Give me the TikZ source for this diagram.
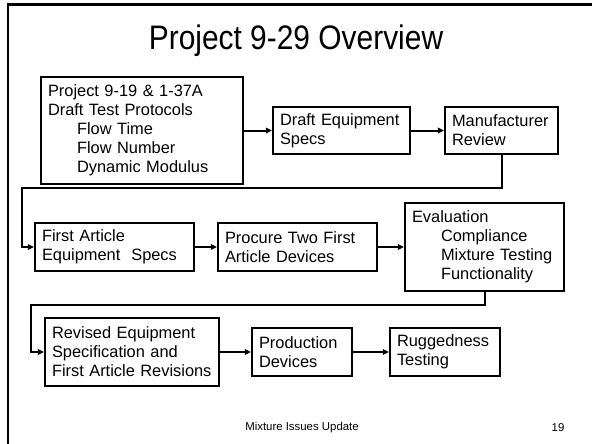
\documentclass[tikz,border=0pt]{standalone}
\usepackage{fontspec}
\setmainfont{Liberation Sans}
\usetikzlibrary{arrows.meta, positioning, calc}
\tikzset{
	every node/.style={
		align=center,
	},
}
\tikzstyle{slidebox} = [draw, line width=2.2pt, align=left, inner xsep=7pt, inner ysep=0pt, font=\fontsize{16.4}{19}\selectfont]
\tikzstyle{flow} = [line width=2pt, -{Triangle[length=6pt,width=5.5pt]}]
\newcommand{\ind}{\hspace*{29pt}}

\begin{document}
\begin{tikzpicture}[x=1pt, y=-1pt]
		\useasboundingbox (0,0) rectangle (592,444);
		
		% slide frame
		\draw[line width=2.4pt] (8,444) -- (8,4.5) -- (592,4.5);
		
		\node[font=\fontsize{34}{40}\selectfont] (title) at (296,41) {\scalebox{0.88}[1]{Project 9-29 Overview}};
		
		% first row
		\node[slidebox, text width=188pt, minimum height=107pt] (proto) at (142,130.5) {Project 9-19 \& 1-37A\\Draft Test Protocols\\\ind Flow Time\\\ind Flow Number\\\ind Dynamic Modulus};
		\node[slidebox, text width=123pt, minimum height=47pt] (draft) at (341.5,130.5) {Draft Equipment\\Specs};
		\node[slidebox, text width=99pt, minimum height=47pt] (review) at (501.5,130.5) {Manufacturer\\Review};
		
		% second row
		\node[slidebox, text width=145pt, minimum height=48pt] (firstspec) at (114.5,247) {First Article\\Equipment\ \ Specs};
		\node[slidebox, text width=145pt, minimum height=48pt] (procure) at (297.5,247) {Procure Two First\\Article Devices};
		\node[slidebox, text width=145pt, minimum height=88pt] (eval) at (484.5,247) {Evaluation\\\ind Compliance\\\ind Mixture Testing\\\ind Functionality};
		
		% third row
		\node[slidebox, text width=160pt, minimum height=68pt] (revised) at (132,352) {Revised Equipment\\Specification and\\First Article Revisions};
		\node[slidebox, text width=86pt, minimum height=48pt] (prod) at (302,352) {Production\\Devices};
		\node[slidebox, text width=96pt, minimum height=48pt] (rugged) at (445,352) {Ruggedness\\Testing};
		
		\coordinate (turn1) at (22,188);
		\coordinate (turn2) at (31,305);
		
		\draw[flow] (proto) -- (draft);
		\draw[flow] (draft) -- (review);
		\draw[flow] (review.south) |- (turn1) |- (firstspec.west);
		\draw[flow] (firstspec) -- (procure);
		\draw[flow] (procure) -- (eval);
		\draw[flow] (eval.south) |- (turn2) |- (revised.west);
		\draw[flow] (revised) -- (prod);
		\draw[flow] (prod) -- (rugged);
		
		% footer
		\node[font=\fontsize{11.4}{13}\selectfont] (footer) at (302,428) {Mixture Issues Update};
		\node[font=\fontsize{11.4}{13}\selectfont] (pagenum) at (558,428) {19};
		
	\end{tikzpicture}
\end{document}
